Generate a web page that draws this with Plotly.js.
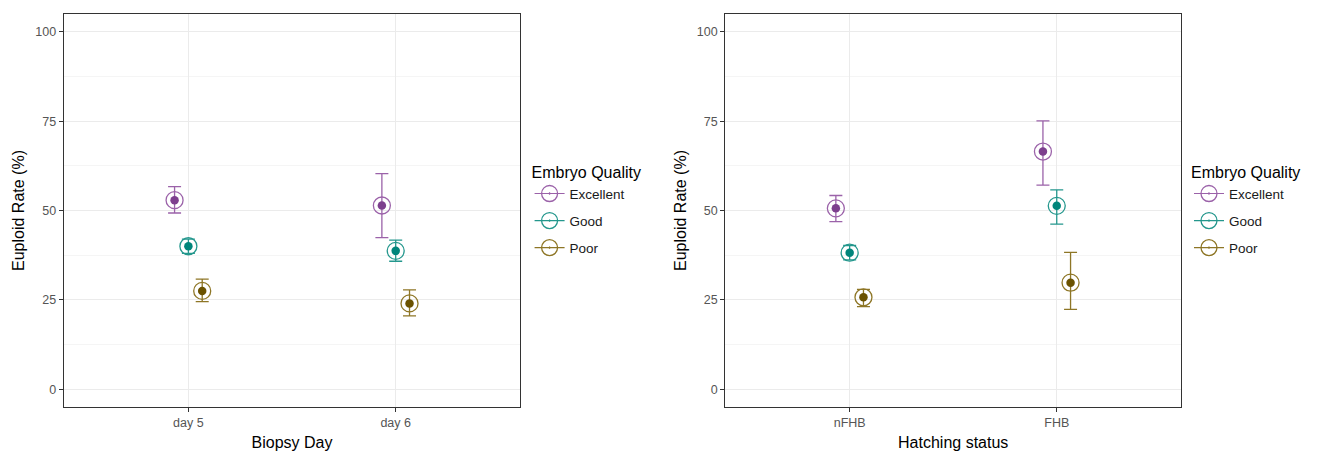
<!DOCTYPE html>
<html>
<head>
<meta charset="utf-8">
<script src="https://cdn.plot.ly/plotly-3.0.1.min.js"></script>
<style>html,body{margin:0;padding:0;background:#fff;}#chart{width:1320px;height:451px;}</style>
</head>
<body>
<div id="chart"></div>
<script>
// ---- data ----
const qualityGroups = ['Excellent', 'Good', 'Poor'];

const biopsyDays = ['day 5', 'day 6'];
const dayExcellent   = [52.9, 51.4];
const dayExcellentLo = [49.3, 42.4];
const dayExcellentHi = [56.7, 60.3];
const dayGood   = [40.0, 38.7];
const dayGoodLo = [38.0, 35.8];
const dayGoodHi = [42.0, 41.7];
const dayPoor   = [27.5, 24.0];
const dayPoorLo = [24.5, 20.5];
const dayPoorHi = [30.8, 27.8];

const hatchStatus = ['nFHB', 'FHB'];
const hatchExcellent   = [50.6, 66.5];
const hatchExcellentLo = [46.9, 57.1];
const hatchExcellentHi = [54.2, 75.1];
const hatchGood   = [38.2, 51.3];
const hatchGoodLo = [36.2, 46.2];
const hatchGoodHi = [40.2, 55.8];
const hatchPoor   = [25.7, 29.8];
const hatchPoorLo = [23.1, 22.3];
const hatchPoorHi = [27.9, 38.3];

const yTicks = [0, 25, 50, 75, 100];

// ---- styles ----
const dotColors  = {Excellent: '#7D3F8E', Good: '#00857B', Poor: '#6B5200'};
const ringColors = {Excellent: '#9B62A9', Good: '#24978D', Poor: '#8E7626'};
const dodge = 0.2 / 3;

function buildPanel(cats, series, xa, ya, legendId) {
  const traces = [];
  series.forEach((s, gi) => {
    const off = (gi - 1) * dodge;
    const xs = cats.map((c, i) => i + 1 + off);
    const plus = s.y.map((v, i) => s.hi[i] - v);
    const minus = s.y.map((v, i) => v - s.lo[i]);
    const xr = [], yr = [];
    xs.forEach((x, i) => { if (i > 0) { xr.push(null); yr.push(null); } xr.push(x); yr.push(s.y[i]); });
    traces.push({
      type: 'scatter', mode: 'markers', x: xs, y: s.y, xaxis: xa, yaxis: ya,
      marker: {size: 0.1, color: ringColors[s.name], opacity: 0},
      error_y: {type: 'data', symmetric: false, array: plus, arrayminus: minus,
                color: ringColors[s.name], thickness: 1.3, width: 6.5},
      showlegend: false, hoverinfo: 'skip', legend: legendId
    });
    traces.push({
      type: 'scatter', mode: 'lines+markers', x: xr, y: yr, xaxis: xa, yaxis: ya,
      name: s.name, legend: legendId, legendgroup: legendId + s.name,
      connectgaps: false,
      line: {color: ringColors[s.name], width: 1.2},
      marker: {symbol: 'circle-open-dot', size: 17, color: ringColors[s.name], line: {width: 1.3}},
      showlegend: true
    });
    traces.push({
      type: 'scatter', mode: 'markers', x: xs, y: s.y, xaxis: xa, yaxis: ya,
      marker: {symbol: 'circle', size: 8.5, color: dotColors[s.name]},
      showlegend: false, legend: legendId
    });
  });
  return traces;
}

const traces = [].concat(
  buildPanel(biopsyDays, [
    {name: 'Excellent', y: dayExcellent, lo: dayExcellentLo, hi: dayExcellentHi},
    {name: 'Good', y: dayGood, lo: dayGoodLo, hi: dayGoodHi},
    {name: 'Poor', y: dayPoor, lo: dayPoorLo, hi: dayPoorHi}
  ], 'x', 'y', 'legend'),
  buildPanel(hatchStatus, [
    {name: 'Excellent', y: hatchExcellent, lo: hatchExcellentLo, hi: hatchExcellentHi},
    {name: 'Good', y: hatchGood, lo: hatchGoodLo, hi: hatchGoodHi},
    {name: 'Poor', y: hatchPoor, lo: hatchPoorLo, hi: hatchPoorHi}
  ], 'x2', 'y2', 'legend2')
);

const FONT = 'Liberation Sans, Arial, sans-serif';
function xAxis(cats, title, domain, anchor) {
  return {
    domain: domain, anchor: anchor, range: [0.4, 2.6],
    tickvals: cats.map((c, i) => i + 1), ticktext: cats,
    ticks: 'outside', ticklen: 4, tickwidth: 1.1, tickcolor: '#333333',
    tickfont: {family: FONT, size: 12.5, color: '#555555'},
    showgrid: true, gridcolor: '#EBEBEB', gridwidth: 1.2,
    showline: true, mirror: true, linecolor: '#333333', linewidth: 1.3,
    zeroline: false, automargin: false,
    title: {text: title, font: {family: FONT, size: 16, color: '#000000'}, standoff: 8}
  };
}
function yAxis(anchor) {
  return {
    domain: [0, 1], anchor: anchor, range: [-5, 105],
    tickvals: yTicks, ticktext: yTicks.map(String),
    ticks: 'outside', ticklen: 4, tickwidth: 1.1, tickcolor: '#333333',
    tickfont: {family: FONT, size: 12.5, color: '#555555'},
    showgrid: true, gridcolor: '#EBEBEB', gridwidth: 1.2,
    minor: {tickvals: [12.5, 37.5, 62.5, 87.5], showgrid: true, gridcolor: '#F3F3F3', gridwidth: 0.8, ticks: ''},
    showline: true, mirror: true, linecolor: '#333333', linewidth: 1.3,
    zeroline: false, automargin: false,
    title: {text: 'Euploid Rate (%)', font: {family: FONT, size: 16, color: '#000000'}, standoff: 6}
  };
}
const legendStyle = (x) => ({
  x: x, xanchor: 'left', y: 0.635, yanchor: 'top',
  bgcolor: 'rgba(0,0,0,0)', borderwidth: 0, tracegroupgap: 6.5,
  font: {family: FONT, size: 13.5, color: '#1A1A1A'},
  title: {text: 'Embryo Quality', font: {family: FONT, size: 16, color: '#000000'}}
});

const W = 1181.5 - 63.5;
const layout = {
  width: 1320, height: 451,
  margin: {l: 63.5, r: 138.5, t: 14, b: 44, pad: 0},
  paper_bgcolor: '#ffffff', plot_bgcolor: '#ffffff',
  showlegend: true,
  xaxis: xAxis(biopsyDays, 'Biopsy Day', [0, 456.5 / W], 'y'),
  yaxis: yAxis('x'),
  xaxis2: xAxis(hatchStatus, 'Hatching status', [(725.5 - 63.5) / W, 1], 'y2'),
  yaxis2: yAxis('x2'),
  legend: legendStyle((529.5 - 63.5) / W),
  legend2: legendStyle((1189.5 - 63.5) / W)
};

Plotly.newPlot('chart', traces, layout, {displayModeBar: false, staticPlot: true});
</script>
</body>
</html>
